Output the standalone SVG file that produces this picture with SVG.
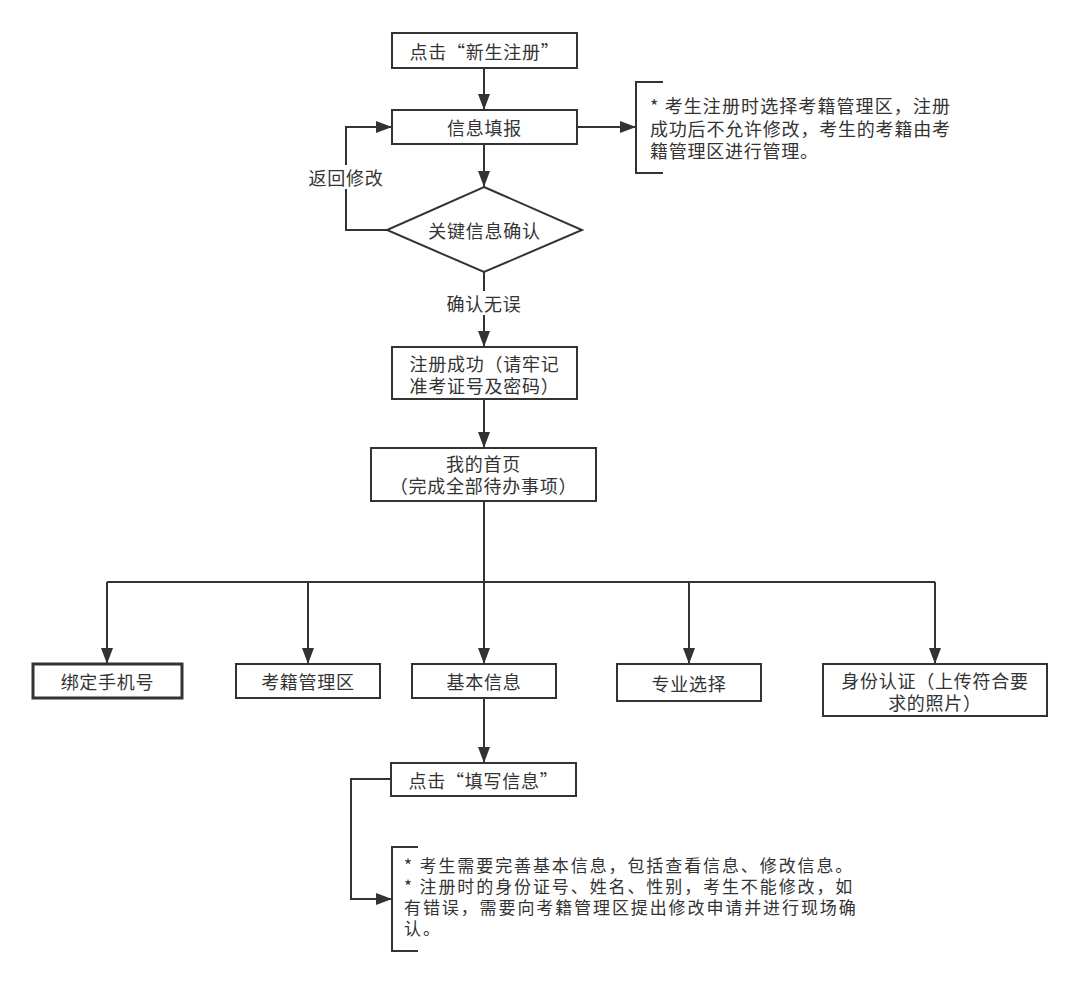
<svg xmlns="http://www.w3.org/2000/svg" width="1080" height="985" viewBox="0 0 1080 985">
<defs>
<marker id="arr" markerUnits="userSpaceOnUse" markerWidth="16" markerHeight="12" refX="16" refY="6" orient="auto">
<path d="M0,0 L16,6 L0,12 z" fill="#333"/>
</marker>
<style>
.box{fill:#fff;stroke:#333;stroke-width:2}
.bold{stroke-width:3}
.ln{fill:none;stroke:#333;stroke-width:2}
.arr{marker-end:url(#arr)}
.t{font-family:"Noto Sans CJK SC","Noto Sans",sans-serif;font-size:18px;fill:#333;letter-spacing:0.75px;text-anchor:middle;dominant-baseline:central}
.n{font-family:"Noto Sans CJK SC","Noto Sans",sans-serif;font-size:18px;fill:#333;dominant-baseline:central}
.n2{font-family:"Noto Sans CJK SC","Noto Sans",sans-serif;font-size:17px;fill:#333;letter-spacing:1.9px;dominant-baseline:central}
</style>
</defs>
<rect width="1080" height="985" fill="#fff"/>
<g id="connectors">
<path class="ln arr" d="M484,68 V110"/>
<path class="ln arr" d="M484,144 V187"/>
<path class="ln arr" d="M387,230 H346 V127 H392"/>
<path class="ln arr" d="M577,127 H636"/>
<path class="ln arr" d="M484,272 V347"/>
<path class="ln arr" d="M484,399 V448"/>
<path class="ln arr" d="M484,501 V664"/>
<path class="ln" d="M107,582 H935"/>
<path class="ln arr" d="M107,582 V664"/>
<path class="ln arr" d="M308,582 V664"/>
<path class="ln arr" d="M689,582 V664"/>
<path class="ln arr" d="M935,582 V664"/>
<path class="ln arr" d="M484,698 V763"/>
<path class="ln arr" d="M391,779 H351 V899 H392"/>
<rect x="306" y="165" width="80" height="24" fill="#fff"/>
<text class="t" x="346" y="177">返回修改</text>
<rect x="444" y="291" width="80" height="24" fill="#fff"/>
<text class="t" x="484" y="303">确认无误</text>
</g>
<g id="n1"><rect class="box" x="392" y="33" width="185" height="35"/><text class="t" x="484.5" y="50.5">点击“新生注册”</text></g>
<g id="n2"><rect class="box" x="392" y="110" width="185" height="34"/><text class="t" x="484.5" y="127">信息填报</text></g>
<g id="note1">
<path class="ln" d="M663,82 H636 V173 H663"/>
<text class="n" x="650" y="105" textLength="300" lengthAdjust="spacing">* 考生注册时选择考籍管理区，注册</text>
<text class="n" x="650" y="128" textLength="300" lengthAdjust="spacing">成功后不允许修改，考生的考籍由考</text>
<text class="n" x="650" y="150" letter-spacing="0.75">籍管理区进行管理。</text>
</g>
<g id="n3"><path class="box" d="M484,187 L582,230 L484,272 L387,230 Z"/><text class="t" x="484.5" y="230">关键信息确认</text></g>
<g id="n4"><rect class="box" x="392" y="347" width="185" height="52"/><text class="t" x="484.5" y="363">注册成功（请牢记</text><text class="t" x="484.5" y="385">准考证号及密码）</text></g>
<g id="n5"><rect class="box" x="371" y="448" width="225" height="53"/><text class="t" x="483.5" y="463">我的首页</text><text class="t" x="483.5" y="485">（完成全部待办事项）</text></g>
<g id="n6"><rect class="box bold" x="33" y="664" width="149" height="34"/><text class="t" x="107.5" y="681">绑定手机号</text></g>
<g id="n7"><rect class="box" x="236" y="664" width="144" height="34"/><text class="t" x="308" y="681">考籍管理区</text></g>
<g id="n8"><rect class="box" x="412" y="664" width="144" height="34"/><text class="t" x="484" y="681">基本信息</text></g>
<g id="n9"><rect class="box" x="617" y="664" width="144" height="37"/><text class="t" x="689" y="682.5">专业选择</text></g>
<g id="n10"><rect class="box" x="823" y="664" width="224" height="52"/><text class="t" x="935" y="680">身份认证（上传符合要</text><text class="t" x="935" y="702">求的照片）</text></g>
<g id="n11"><rect class="box" x="391" y="763" width="185" height="33"/><text class="t" x="483.5" y="779.5">点击“填写信息”</text></g>
<g id="note2">
<path class="ln" d="M418,847 H392 V951 H418"/>
<text class="n2"><tspan x="404" y="864">* 考生需要完善基本信息，包括查看信息、修改信息。</tspan><tspan x="404" y="885">* 注册时的身份证号、姓名、性别，考生不能修改，如</tspan><tspan x="404" y="906">有错误，需要向考籍管理区提出修改申请并进行现场确</tspan><tspan x="404" y="927">认。</tspan></text>
</g>
</svg>
